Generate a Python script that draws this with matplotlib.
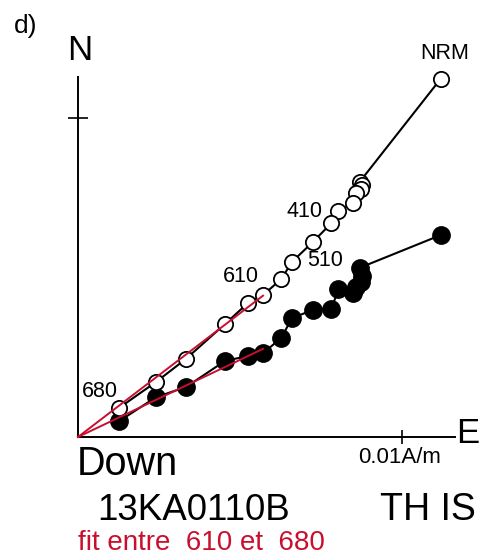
import numpy as np
import matplotlib
matplotlib.use("Agg")
import matplotlib.pyplot as plt

plt.rcParams['font.family'] = ['Liberation Sans', 'DejaVu Sans']

#%% data (units of mA/m, 10 = 0.01 A/m)
east = [11.19, 8.69, 8.75, 8.72, 8.58, 8.49, 8.04, 7.82, 7.25, 6.60, 6.28,
        5.71, 5.25, 4.54, 3.33, 2.41, 1.27]
north = [11.05, 7.87, 7.78, 7.65, 7.53, 7.22, 6.98, 6.60, 6.02, 5.40, 4.88,
         4.38, 4.14, 3.49, 2.41, 1.70, 0.90]
up = [6.23, 5.22, 4.97, 4.78, 4.63, 4.44, 4.57, 3.95, 3.92, 3.67, 3.06,
      2.59, 2.50, 2.35, 1.54, 1.23, 0.49]
fit_start = 11  # 610
step_labels = {"NRM": (11.32, 11.85), "410": (7.00, 6.95), "510": (7.62, 5.44),
               "610": (5.03, 4.94), "680": (0.68, 1.39)}
red = "#c8102e"

#%% figure
fig = plt.figure(figsize=(4.87, 5.56), dpi=100)
ax = fig.add_axes([0, 0, 1, 1])
ax.set_xlim(-78 / 32.4, (487 - 78) / 32.4)
ax.set_ylim(-(556 - 437) / 32.4, 437 / 32.4)

for s in ["top", "right"]:
    ax.spines[s].set_visible(False)
ax.spines["left"].set_position(("data", 0))
ax.spines["bottom"].set_position(("data", 0))
ax.spines["left"].set_bounds(0, 11.11)
ax.spines["bottom"].set_bounds(0, 11.64)
ax.spines["left"].set_linewidth(1.4)
ax.spines["bottom"].set_linewidth(1.4)
ax.set_xticks([10])
ax.set_yticks([9.85])
ax.set_xticklabels([])
ax.set_yticklabels([])
ax.tick_params(axis="y", direction="inout", length=14, width=1.2)
ax.tick_params(axis="x", direction="inout", length=10, width=1.2)

E = np.array(east)
N = np.array(north)
Z = np.array(up)

# vertical projection (filled)
ax.plot(E, Z, "-", color="black", lw=1.5, zorder=2)
ax.plot(E, Z, "o", ms=12.5, mfc="black", mec="black", zorder=3)
# horizontal projection (open)
ax.plot(E, N, "-", color="black", lw=1.5, zorder=4)
ax.plot(E, N, "o", ms=11, mfc="white", mec="black", mew=1.3, zorder=5)

# fits through origin for 610-680
xs = E[fit_start:]
for ys in (N[fit_start:], Z[fit_start:]):
    k = np.sum(xs * ys) / np.sum(xs * xs)
    ax.plot([0, xs[0]], [0, k * xs[0]], color=red, lw=1.4, zorder=6)

for lab, (x, y) in step_labels.items():
    ax.text(x, y, lab, fontsize=15.5, ha="center", va="center")

ax.text(0.06, 11.94, "N", fontsize=25, ha="center", va="center")
ax.text(12.04, 0.12, "E", fontsize=25, ha="center", va="center")
ax.text(-0.05, -0.82, "Down", fontsize=28.5, ha="left", va="center")
ax.text(9.94, -0.62, "0.01A/m", fontsize=16, ha="center", va="center")

fig.text(26 / 487, 1 - 26 / 556, "d)", fontsize=19, ha="center", va="center")
fig.text(97 / 487, 1 - 510 / 556, "13KA0110B", fontsize=26.5, ha="left", va="center")
fig.text(380 / 487, 1 - 510 / 556, "TH IS", fontsize=27, ha="left", va="center")
fig.text(78 / 487, 1 - 543 / 556, "fit entre  610 et  680", fontsize=20,
         color=red, ha="left", va="center")

fig.savefig("out.png", dpi=100)
